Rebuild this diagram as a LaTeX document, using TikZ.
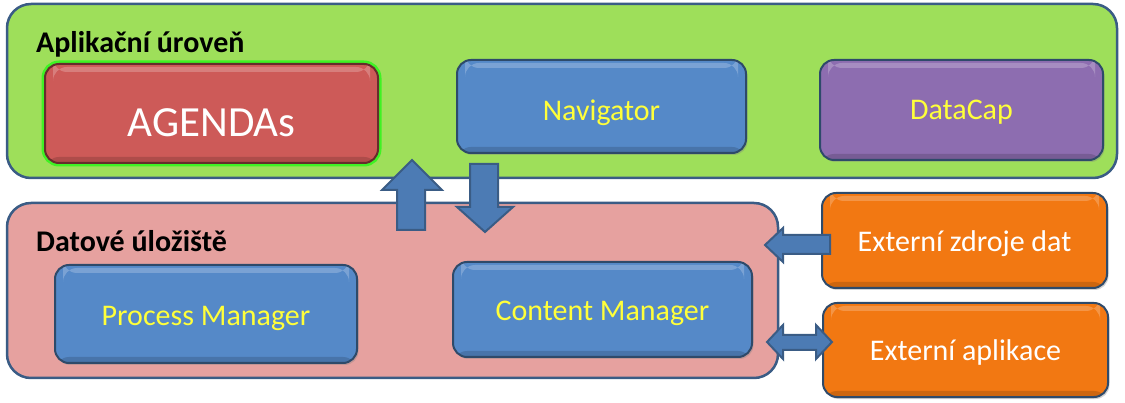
\documentclass[tikz,border=0pt]{standalone}
\usepackage{fontspec}
\setmainfont{Carlito}
\usetikzlibrary{shadows}
\definecolor{edge}{HTML}{3A5C85}
\definecolor{greenf}{HTML}{9EDF5A}
\definecolor{pinkf}{HTML}{E6A19F}
\definecolor{bluef}{HTML}{5589C8}
\definecolor{redf}{HTML}{CD5A58}
\definecolor{purplef}{HTML}{8D6DB0}
\definecolor{orangef}{HTML}{F27812}
\definecolor{ylw}{HTML}{FFFF3A}
\begin{document}
\begin{tikzpicture}[x=1pt,y=-1pt,
  layer/.style={draw=edge,line width=2.5pt,rounded corners=24pt,inner sep=0pt},
  blk/.style={draw=edge!80!black,line width=2pt,rounded corners=14pt,inner sep=0pt,
    drop shadow={shadow xshift=1.5pt,shadow yshift=-2pt,opacity=0.35},
    path picture={
      \fill[white,opacity=0.22] ([xshift=8pt,yshift=-3pt]path picture bounding box.north west) rectangle ([xshift=-8pt,yshift=-8pt]path picture bounding box.north east);
      \fill[black,opacity=0.15] ([yshift=6pt]path picture bounding box.south west) rectangle (path picture bounding box.south east);
    }},
  lbl/.style={font=\fontsize{30}{32}\selectfont,text=ylw},
  wlbl/.style={font=\fontsize{30}{32}\selectfont,text=white},
  ttl/.style={font=\bfseries\fontsize{30}{32}\selectfont,anchor=base west,inner sep=0pt},
  barrow/.style={fill=bluef!90!black,draw=edge,line width=2pt,line join=miter}]
\useasboundingbox (0,0) rectangle (1125,403);
% layers
\node[layer,fill=greenf,minimum width=1110pt,minimum height=174pt] (app) at (562,91) {};
\node[layer,fill=pinkf,minimum width=771pt,minimum height=175pt] (store) at (392.5,290.5) {};
\node[ttl] (appt) at (36,53) {Aplikační úroveň};
\node[ttl] (storet) at (36,252) {Datové úložiště};
% blocks
\node[blk,fill=redf,minimum width=333pt,minimum height=99pt,
  draw=redf!50!black,
  preaction={draw=green!60!greenf,line width=7pt,rounded corners=16pt}] (agenda) at (211.5,113.5) {};
\node[font=\fontsize{43}{46}\selectfont,text=white] at ([yshift=-9pt]agenda.center) {AGENDAs};
\node[blk,fill=bluef,minimum width=289pt,minimum height=93pt] (nav) at (601.5,106.5) {};
\node[lbl] at ([yshift=-6pt]nav.center) {Navigator};
\node[blk,fill=purplef,minimum width=283pt,minimum height=100pt] (dc) at (961.5,110) {};
\node[lbl] at ([yshift=-2pt]dc.center) {DataCap};
\node[blk,fill=bluef,minimum width=302pt,minimum height=98pt] (pm) at (206,314) {};
\node[lbl] at ([yshift=-4pt]pm.center) {Process Manager};
\node[blk,fill=bluef,minimum width=299pt,minimum height=95pt] (cm) at (602.5,309.5) {};
\node[lbl] at ([yshift=-4pt]cm.center) {Content Manager};
\node[blk,fill=orangef,minimum width=285pt,minimum height=95pt] (ez) at (964.5,240.5) {};
\node[wlbl] at ([yshift=-3pt]ez.center) {Externí zdroje dat};
\node[blk,fill=orangef,minimum width=285pt,minimum height=94pt] (ea) at (965.5,350) {};
\node[wlbl] at ([yshift=-3pt]ea.center) {Externí aplikace};
% block arrows
\draw[barrow] (397,230) -- (397,190) -- (382,190) -- (412,160) -- (442,190) -- (425,190) -- (425,230) -- cycle;
\draw[barrow] (470,164) -- (498,164) -- (498,207) -- (513,207) -- (485,232) -- (457,207) -- (470,207) -- cycle;
\draw[barrow] (830,235) -- (783,235) -- (783,228) -- (765,245) -- (783,262) -- (783,254) -- (830,254) -- cycle;
\draw[barrow] (767,342) -- (783,325) -- (783,335) -- (816,335) -- (816,325) -- (832,342) -- (816,359) -- (816,350) -- (783,350) -- (783,359) -- cycle;
\end{tikzpicture}
\end{document}
